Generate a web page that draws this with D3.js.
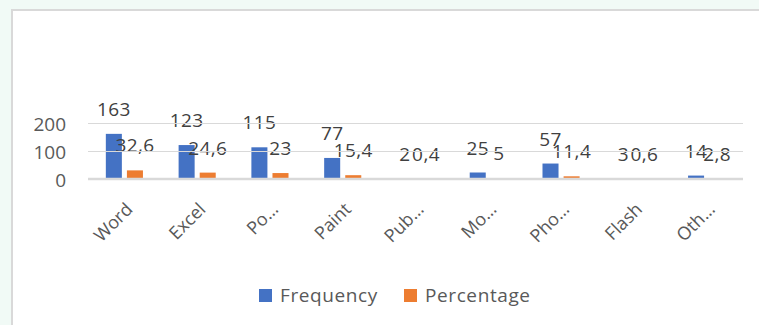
<!DOCTYPE html>
<html>
<head>
<meta charset="utf-8">
<script src="https://cdn.jsdelivr.net/npm/d3@7"></script>
<style>
  html, body { margin: 0; padding: 0; background: #f1faf6; }
  svg { display: block; }
</style>
</head>
<body>
<svg id="chart" width="759" height="325"></svg>
<script>
const categories = ["Word", "Excel", "Po…", "Paint", "Pub…", "Mo…", "Pho…", "Flash", "Oth…"];
const frequency = [163, 123, 115, 77, 2, 25, 57, 3, 14];
const percentage = [32.6, 24.6, 23, 15.4, 0.4, 5, 11.4, 0.6, 2.8];
const seriesNames = ["Frequency", "Percentage"];
const seriesColors = ["#4472C4", "#ED7D31"];
const yTicks = [0, 100, 200];

const svg = d3.select("#chart");
const font = "'Open Sans', Lato, sans-serif";

// frame
svg.append("rect").attr("x", 0).attr("y", 0).attr("width", 759).attr("height", 325).attr("fill", "#f1faf6");
svg.append("rect").attr("x", 12).attr("y", 10).attr("width", 760).attr("height", 330)
  .attr("fill", "#ffffff").attr("stroke", "#d9d9d9").attr("stroke-width", 2);

const x0 = d3.scaleBand().domain(categories).range([88, 743]).paddingInner(0.49).paddingOuter(0.245);
const x1 = d3.scaleBand().domain(seriesNames).range([0, x0.bandwidth()]).paddingInner(0.24);
const y = d3.scaleLinear().domain([0, 200]).range([179.5, 123.5]);

const data = categories.map((c, i) => ({ cat: c, values: [frequency[i], percentage[i]] }));
const fmt = v => String(v).replace(".", ",");

const groups = svg.append("g").selectAll("g").data(data).join("g")
  .attr("transform", d => `translate(${x0(d.cat)},0)`);

groups.selectAll("rect").data(d => d.values.map((v, j) => ({ v, s: seriesNames[j], c: seriesColors[j] })))
  .join("rect")
  .attr("x", d => x1(d.s)).attr("width", x1.bandwidth())
  .attr("y", d => y(d.v)).attr("height", d => y(0) - y(d.v))
  .attr("fill", d => d.c);

// gridlines (drawn over bars like the reference, hiding tiny bars)
svg.append("g").selectAll("line").data(yTicks).join("line")
  .attr("x1", 88).attr("x2", 743)
  .attr("y1", d => d === 0 ? y(d) - 0.5 : y(d)).attr("y2", d => d === 0 ? y(d) - 0.5 : y(d))
  .attr("stroke", "#d9d9d9").attr("stroke-width", d => d === 0 ? 2.5 : 1.2);

groups.selectAll("text").data(d => d.values.map((v, j) => ({ v, s: seriesNames[j] })))
  .join("text")
  .attr("x", d => x1(d.s) + x1.bandwidth() / 2)
  .attr("y", d => y(d.v) - 18)
  .attr("text-anchor", "middle")
  .attr("font-family", font).attr("font-size", 19).attr("letter-spacing", 0.4).attr("fill", "#404040")
  .text(d => fmt(d.v));

// y axis labels
const yAxis = d3.axisLeft(y).tickValues(yTicks).tickSize(0).tickPadding(0);
const ya = svg.append("g").attr("transform", "translate(66,0)").call(yAxis);
ya.select(".domain").remove();
ya.selectAll("text").attr("font-family", font).attr("font-size", 19).attr("fill", "#595959").attr("dy", "0.36em");

// x axis labels
const xAxis = d3.axisBottom(x0).tickSize(0).tickPadding(0);
const xa = svg.append("g").call(xAxis);
xa.select(".domain").remove();
xa.selectAll(".tick").attr("transform", d => `translate(${x0(d) + x0.bandwidth() / 2 + 5},206)`);
xa.selectAll("text")
  .attr("font-family", font).attr("font-size", 18).attr("fill", "#595959")
  .attr("text-anchor", "end")
  .attr("x", 0).attr("y", 0)
  .attr("dy", "0.35em")
  .attr("transform", "rotate(-45)");

// legend
const legendItems = [
  { name: seriesNames[0], color: seriesColors[0], x: 259 },
  { name: seriesNames[1], color: seriesColors[1], x: 404 }
];
const lg = svg.append("g");
lg.selectAll("rect").data(legendItems).join("rect")
  .attr("x", d => d.x).attr("y", 289).attr("width", 13).attr("height", 13).attr("fill", d => d.color);
lg.selectAll("text").data(legendItems).join("text")
  .attr("x", d => d.x + 21).attr("y", 302)
  .attr("font-family", font).attr("font-size", 19).attr("letter-spacing", 0.6).attr("fill", "#595959")
  .text(d => d.name);
</script>
</body>
</html>
